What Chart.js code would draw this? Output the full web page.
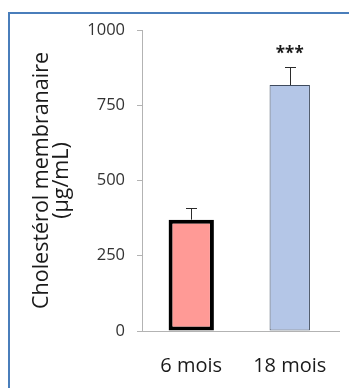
<!DOCTYPE html>
<html>
<head>
<meta charset="utf-8">
<script src="https://cdn.jsdelivr.net/npm/chart.js@4.4.1/dist/chart.umd.min.js"></script>
<style>
  html, body { margin: 0; padding: 0; background: #fff; overflow: hidden; }
  #wrap { position: relative; width: 349px; height: 388px; }
  #frame {
    position: absolute; left: 8px; top: 12px; width: 400px; height: 400px;
    border-left: 2px solid #4a7ebb; border-top: 2px solid #4a7ebb;
    pointer-events: none;
  }
  canvas { position: absolute; left: 0; top: 0; }
</style>
</head>
<body>
<div id="wrap">
  <canvas id="chart" width="349" height="388"></canvas>
  <div id="frame"></div>
</div>
<script>
const labels = ["6 mois", "18 mois"];
const values = [370, 817];
const errors = [40, 60];
const signif = ["", "***"];
const yTicks = [0, 250, 500, 750, 1000];

const fills = ["#ff9a96", "#b4c6e7"];
const borders = ["#000000", "#3f4b5e"];
const borderWidths = [4, 1];
const barPct = [0.46, 0.41];

const FONT = "'Open Sans', 'Liberation Sans', sans-serif";
const AXIS = "#b3b3b3";

// one dataset per bar so each can have its own width / border
const datasets = values.map((v, i) => ({
  data: values.map((w, j) => (j === i ? w : null)),
  backgroundColor: fills[i],
  borderColor: borders[i],
  borderWidth: borderWidths[i],
  borderSkipped: false,
  barPercentage: barPct[i],
  categoryPercentage: 1,
  grouped: false,
}));

const errorBars = {
  id: "errorBars",
  afterDatasetsDraw(chart) {
    const { ctx } = chart;
    const x = chart.scales.x;
    const y = chart.scales.y;
    ctx.save();
    values.forEach((v, i) => {
      const cx = x.getPixelForValue(i);
      const y0 = y.getPixelForValue(v);
      const y1 = y.getPixelForValue(v + errors[i]);
      ctx.strokeStyle = "#2b2b2b";
      ctx.lineWidth = 1;
      ctx.beginPath();
      ctx.moveTo(Math.round(cx) + 0.5, y0);
      ctx.lineTo(Math.round(cx) + 0.5, Math.round(y1) + 0.5);
      ctx.moveTo(Math.round(cx) - 5, Math.round(y1) + 0.5);
      ctx.lineTo(Math.round(cx) + 6, Math.round(y1) + 0.5);
      ctx.stroke();
      if (signif[i]) {
        ctx.fillStyle = "#1a1a1a";
        ctx.font = "bold 17px " + FONT;
        ctx.textAlign = "center";
        ctx.textBaseline = "middle";
        ctx.fillText(signif[i], cx, y1 - 13);
      }
    });
    ctx.restore();
  },
};

new Chart(document.getElementById("chart"), {
  type: "bar",
  data: { labels, datasets },
  options: {
    responsive: false,
    animation: false,
    layout: { padding: { left: 0, top: 30, right: 10, bottom: 0 } },
    plugins: { legend: { display: false }, tooltip: { enabled: false } },
    scales: {
      x: {
        grid: { display: false },
        border: { display: true, color: AXIS, width: 1 },
        ticks: { color: "#1a1a1a", font: { family: FONT, size: 20 }, padding: 15 },
        afterFit(s) { s.height = 57; },
      },
      y: {
        min: 0,
        max: 1000,
        afterBuildTicks(s) { s.ticks = yTicks.map((v) => ({ value: v })); },
        grid: { drawOnChartArea: false, drawTicks: true, tickLength: 5, color: AXIS },
        border: { display: true, color: AXIS, width: 1 },
        ticks: {
          color: "#333333",
          font: { family: FONT, size: 16.5 },
          padding: 12,
          callback: (v) => String(v),
        },
        title: {
          display: true,
          text: ["Cholestérol membranaire", "(µg/mL)"],
          color: "#1a1a1a",
          font: { family: FONT, size: 21.5, lineHeight: "20px" },
          padding: { top: 32, bottom: 0 },
        },
        afterFit(s) { s.width = 142; },
      },
    },
  },
  plugins: [errorBars],
});
</script>
</body>
</html>
